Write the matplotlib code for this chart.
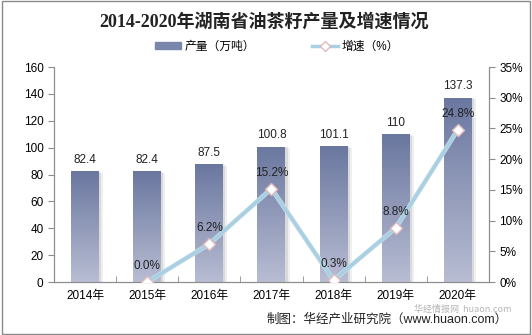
import numpy as np
import matplotlib
matplotlib.use('Agg')
import matplotlib.pyplot as plt
import matplotlib.ticker as ticker
from matplotlib.colors import LinearSegmentedColormap
from matplotlib.patches import Rectangle
from matplotlib.lines import Line2D
import matplotlib.patheffects as pe

plt.rcParams['font.family'] = ['Liberation Sans', 'Noto Sans CJK SC']

# ------------
# Data
# ------------
years = ['2014年', '2015年', '2016年', '2017年', '2018年', '2019年', '2020年']
output = [82.4, 82.4, 87.5, 100.8, 101.1, 110, 137.3]          # 万吨
growth_years = ['2015年', '2016年', '2017年', '2018年', '2019年', '2020年']
growth = [0.0, 6.2, 15.2, 0.3, 8.8, 24.8]                       # %

bar_top = '#6a779f'
bar_bot = '#b8bdd3'
line_col = '#a9cfe2'
axis_col = '#8c8c8c'

fig = plt.figure(figsize=(5.32, 3.35), dpi=100)
ax1 = fig.add_axes([0.1015, 0.158, 0.8175, 0.642])
ax2 = ax1.twinx()

x = np.arange(len(years))
xg = np.array([years.index(y) for y in growth_years])
w = 0.45

# Bars with a soft shadow, then a vertical gradient clipped to each bar
bars = ax1.bar(x, output, width=w, color=bar_top, zorder=2,
               path_effects=[pe.SimplePatchShadow(offset=(3, -1), shadow_rgbFace='#999999', alpha=0.15),
                             pe.SimplePatchShadow(offset=(1.5, -0.5), shadow_rgbFace='#888888', alpha=0.2),
                             pe.Normal()])
cmap = LinearSegmentedColormap.from_list('bar', [bar_bot, bar_top])
grad = np.linspace(0, 1, 256).reshape(-1, 1)
for b in bars:
  x0, y0 = b.get_x(), b.get_y()
  im = ax1.imshow(grad, cmap=cmap, origin='lower', aspect='auto',
                  extent=(x0, x0 + b.get_width(), y0, y0 + b.get_height()), zorder=3)
  im.set_clip_path(b)

for xi, v in zip(x, output):
  ax1.text(xi, v + 4, '{:g}'.format(v), ha='center', va='bottom', fontsize=8.5, color='#222222', zorder=5)

ax1.set_xlim(-0.5, len(years) - 0.5)
ax1.set_ylim(0, 160)
ax1.yaxis.set_major_locator(ticker.MultipleLocator(20))
ax1.set_xticks(x)
ax1.set_xticklabels(years)
ax1.set_xticks(np.arange(-0.5, len(years), 1), minor=True)
ax1.tick_params(axis='x', which='major', length=0, labelsize=8.5, pad=6)
ax1.tick_params(axis='x', which='minor', length=4, direction='in', color=axis_col)
ax1.tick_params(axis='y', length=4, color=axis_col, labelsize=8.5)

# Growth rate line on the right axis
ax2.plot(xg, growth, color=line_col, lw=2.4, zorder=4,
         path_effects=[pe.Stroke(linewidth=3.4, foreground='#c8dee9'), pe.Normal()])
ax2.plot(xg, growth, linestyle='None', marker='D', ms=6, mfc='white', mec='#e2b9bd', mew=1.0, zorder=6)
for xi, v in zip(xg, growth):
  ax2.text(xi, v + 1.6, '{:.1f}%'.format(v), ha='center', va='bottom', fontsize=8.5, color='#222222', zorder=7)

ax2.set_ylim(0, 35)
ax2.yaxis.set_major_locator(ticker.MultipleLocator(5))
ax2.yaxis.set_major_formatter(ticker.FuncFormatter(lambda v, pos: '{:.0f}%'.format(v)))
ax2.tick_params(axis='y', length=4, color=axis_col, labelsize=8.5)

for ax in (ax1, ax2):
  ax.spines['top'].set_visible(False)
  for s in ('left', 'right', 'bottom'):
    ax.spines[s].set_color(axis_col)
ax1.set_zorder(1)
ax2.set_zorder(2)
ax2.patch.set_alpha(0.0)

# Title and legend
fig.text(0.497, 0.934, '2014-2020年湖南省油茶籽产量及增速情况', ha='center', va='center',
         fontsize=13, fontweight='bold', color='#222222',
         family=['Liberation Serif', 'Noto Sans CJK SC'])

handles = [Rectangle((0, 0), 1, 1, color='#7a86aa'),
           Line2D([], [], color=line_col, lw=2.5, marker='D', ms=5, mfc='white', mec='#e2b9bd')]
fig.legend(handles, ['产量（万吨）', '增速（%）'], loc='center', bbox_to_anchor=(0.52, 0.86),
           ncol=2, frameon=False, fontsize=8.5, handlelength=2.2, handleheight=0.6,
           columnspacing=4.8, handletextpad=0.3)

# Source note and site mark
fig.text(0.955, 0.045, '制图：华经产业研究院（www.huaon.com）', ha='right', va='center',
         fontsize=9, color='#222222')
fig.text(0.87, 0.076, '华经情报网  huaon.com', ha='center', va='center', fontsize=6.5,
         color='#b5b5b5', family='Noto Sans CJK SC')

# Outer frame
fig.patches.append(Rectangle((0.003, 0.004), 0.994, 0.992, transform=fig.transFigure,
                             fill=False, edgecolor='#8a8a8a', lw=1.0))

fig.savefig('out.png', dpi=100)
plt.close()
